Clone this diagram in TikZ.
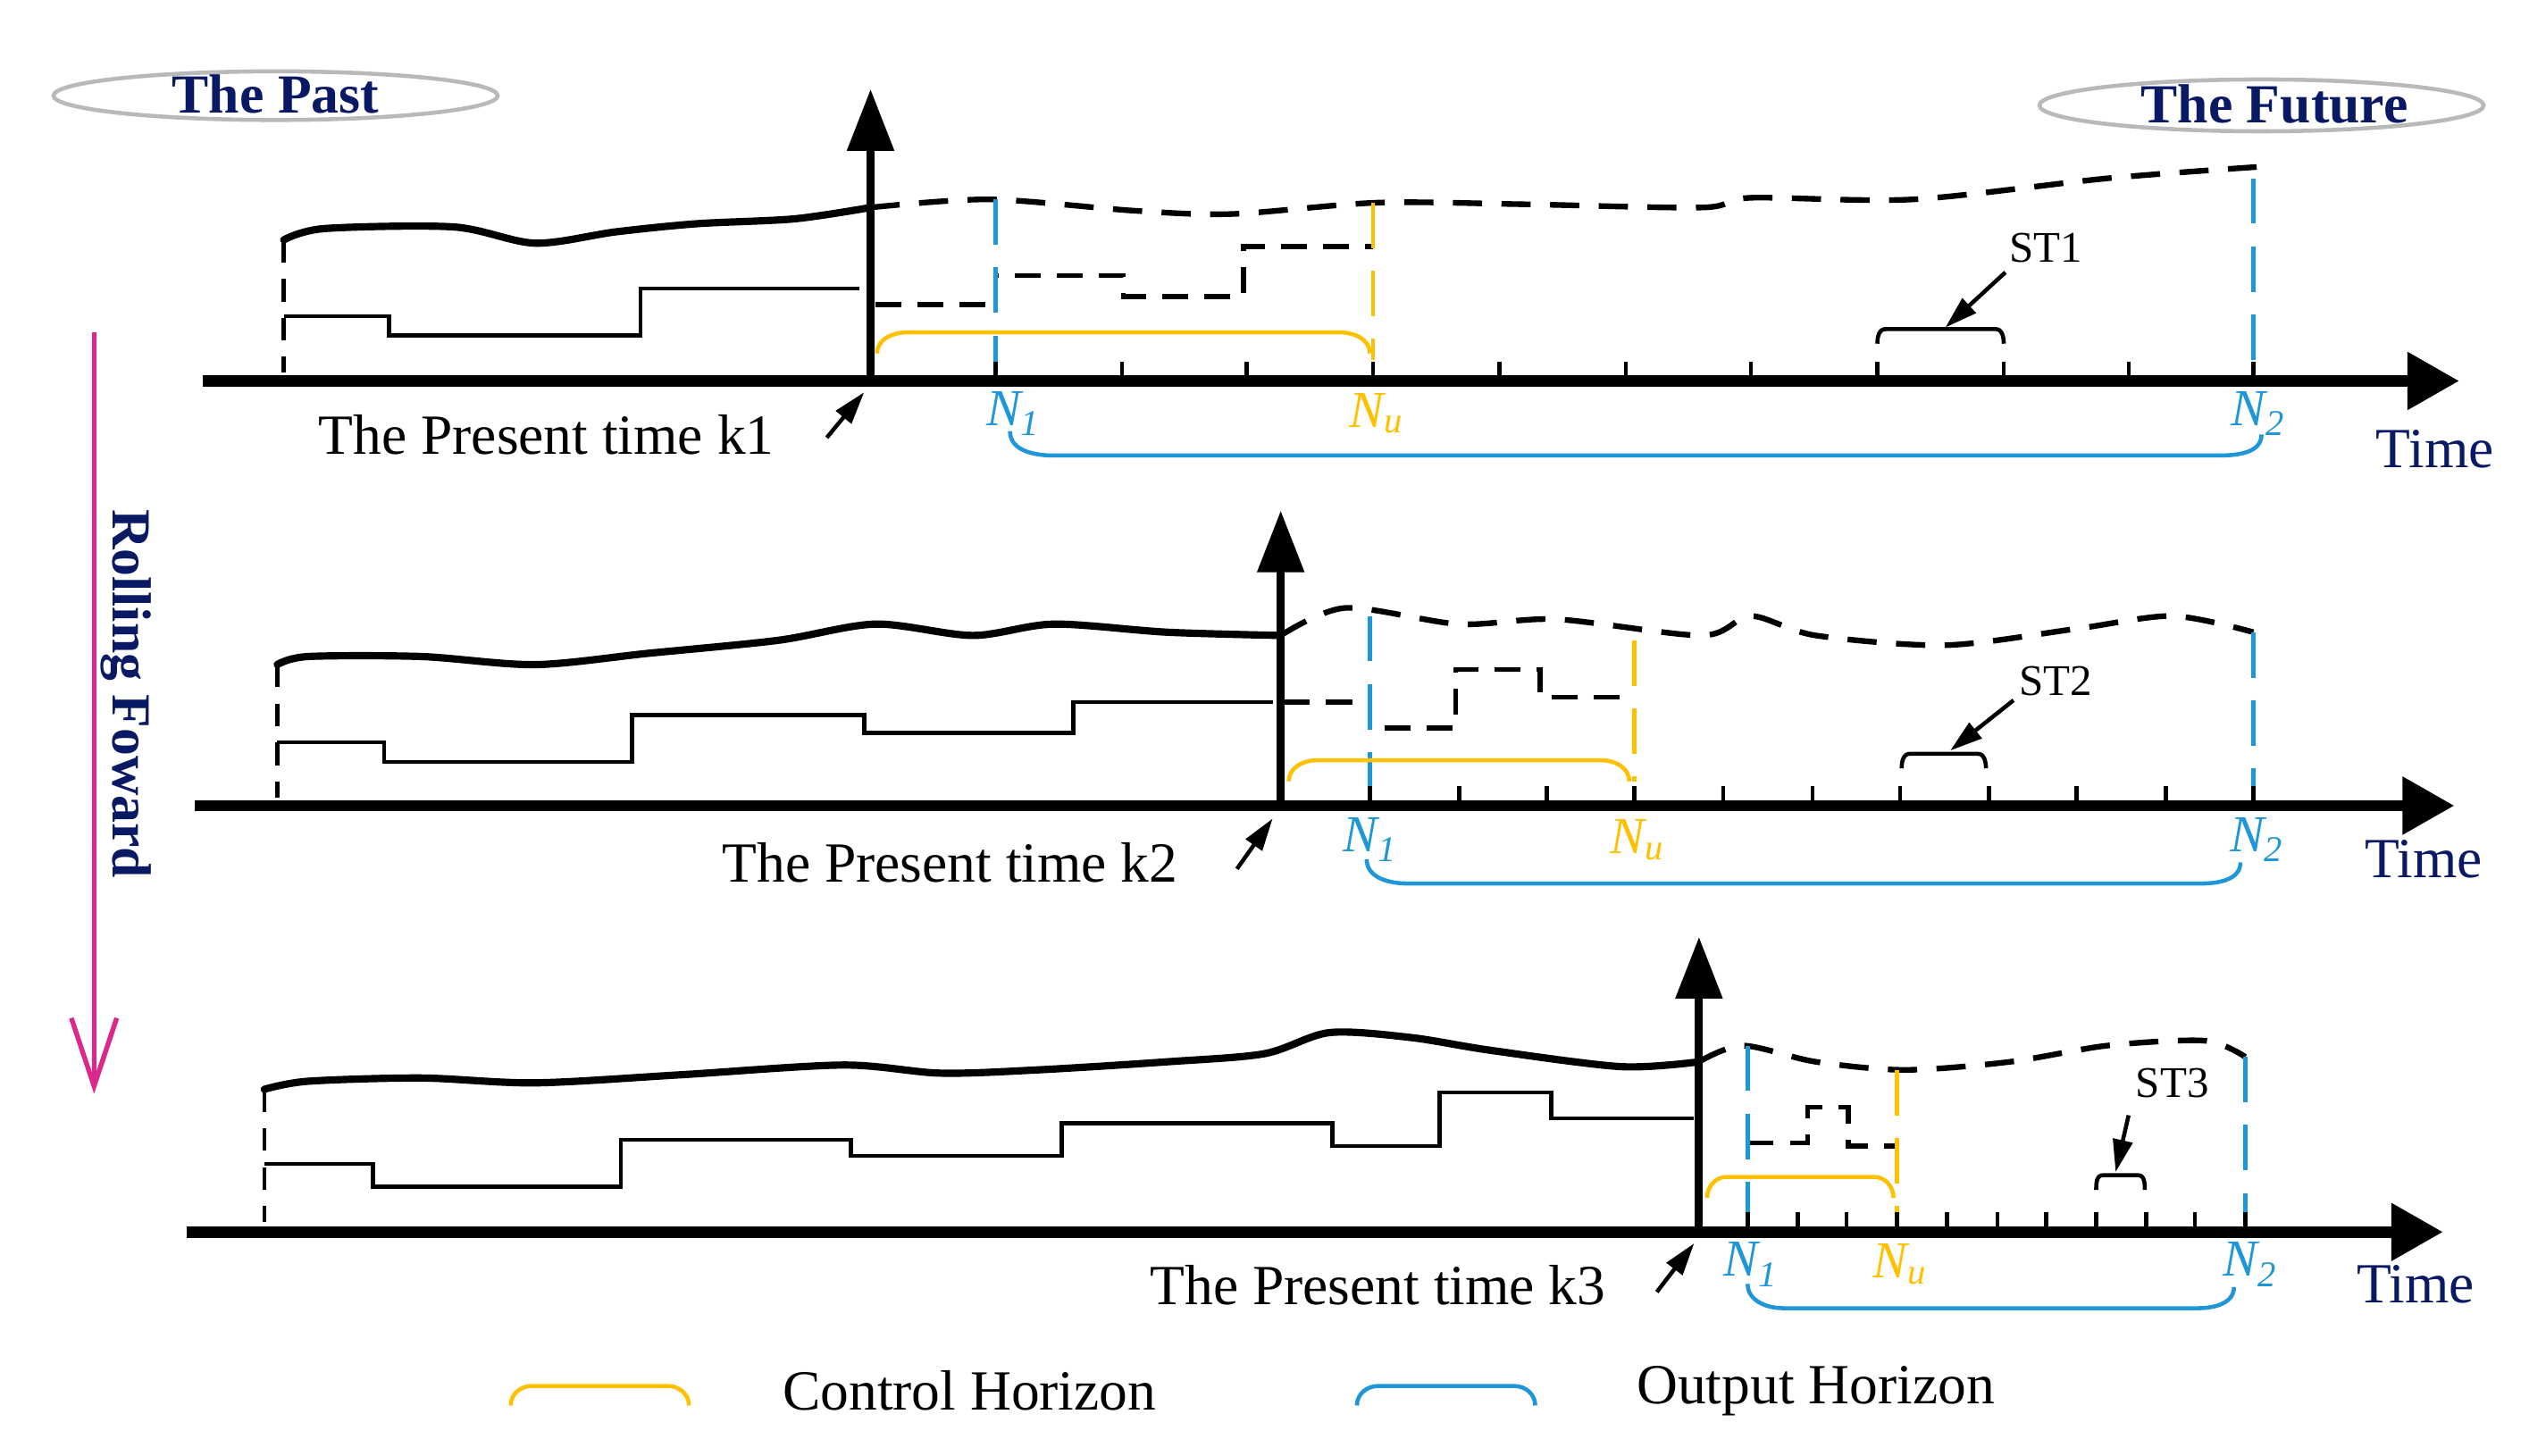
\documentclass[tikz,border=0pt]{standalone}
\usepackage{fontspec}
\setmainfont{Liberation Serif}
\usetikzlibrary{arrows.meta}
\definecolor{navy}{RGB}{10,25,100}
\definecolor{ora}{RGB}{255,192,0}
\definecolor{blu}{RGB}{30,150,215}
\definecolor{mag}{RGB}{220,40,140}
\begin{document}
\begin{tikzpicture}[x=1pt,y=-1pt,
 axis/.style={line width=7pt,-{Triangle[length=32pt,width=34pt]}},
 vax/.style={line width=5pt,-{Triangle[length=38pt,width=28pt]}},
 past/.style={line width=4.5pt,line cap=round},
 fut/.style={line width=3.5pt,dash pattern=on 18pt off 12pt},
 stp/.style={line width=2.5pt},
 dstp/.style={line width=3pt,dash pattern=on 16pt off 10pt},
 pd/.style={line width=2.5pt,dash pattern=on 14pt off 10pt},
 bv/.style={blu,line width=2.5pt,dash pattern=on 28pt off 14pt},
 ov/.style={ora,line width=2.5pt,dash pattern=on 28pt off 14pt},
 tk/.style={line width=2.5pt},
 lab/.style={font=\fontsize{32}{32}\selectfont\itshape},
 pres/.style={font=\fontsize{35}{35}\selectfont},
 tim/.style={font=\fontsize{35}{35}\selectfont,text=navy},
 pa/.style={line width=2.5pt,-{Triangle[length=20pt,width=12pt]}},
 ttl/.style={font=\fontsize{34}{34}\selectfont\bfseries,text=navy}]
\useasboundingbox (0,0) rectangle (1560,898);
% ellipses
\draw[gray!55,line width=2.5pt] (170,59) ellipse [x radius=137,y radius=15];
\node[ttl] (past) at (170,58) {The Past};
\draw[gray!55,line width=2.5pt] (1395,65) ellipse [x radius=137,y radius=16];
\node[ttl] (future) at (1403,64) {The Future};
% rolling
\coordinate (r1) at (58,205); \coordinate (r2) at (58,670);
\draw[mag,line width=3pt] (r1) -- (r2);
\draw[mag,line width=3pt] (44,628) -- (r2) -- (72,628);
\node[ttl,rotate=-90] (roll) at (78,428) {Rolling Foward};
% ===== panel 1 =====
\coordinate (a1s) at (125,235); \coordinate (a1e) at (1517,235);
\draw[axis] (a1s) -- (a1e);
\coordinate (v1s) at (537,238); \coordinate (v1e) at (537,55);
\draw[pd] (175,148) -- (175,230);
\draw[past] plot[smooth] coordinates {(175,148) (200,141) (280,140) (330,150) (380,143) (430,138) (490,135) (537,128)};
\draw[fut] plot[smooth] coordinates {(537,128) (610,123) (700,130) (760,132) (850,125) (940,126) (1050,128) (1080,122) (1180,123) (1300,110) (1392,103)};
\draw[stp] (175,195) -| (240,207) -| (395,178) -- (530,178);
\draw[dstp] (540,188) -| (614,170) -| (693,183) -| (767,152) -- (847,152);
\draw[bv] (614,123) -- (614,235);
\draw[ov] (847,125) -- (847,222);
\draw[bv] (1390,110) -- (1390,235);
\foreach \x in {614,692,769,847,925,1003,1080,1158,1236,1313,1390} \draw[tk] (\x,223) -- (\x,235);
\draw[vax] (v1s) -- (v1e);
\draw[ora,line width=2.5pt] (541,218) to[out=90,in=180] (560,205) -- (826,205) to[out=0,in=90] (845,218);
\draw[line width=2.5pt] (1158,212) to[out=90,in=180] (1163,203) -- (1231,203) to[out=0,in=90] (1236,212);
\node[font=\fontsize{27}{27}\selectfont] (st1) at (1262,153) {ST1};
\coordinate (st1t) at (1200,202);
\draw[pa] (1237,168) -- (st1t);
\node[lab,text=blu] (n11) at (625,255) {N\textsubscript{1}};
\node[lab,text=ora] (nu1) at (849,255) {N\textsubscript{u}};
\node[lab,text=blu] (n21) at (1393,255) {N\textsubscript{2}};
\node[tim] (t1) at (1502,277) {Time};
\draw[blu,line width=2.5pt] (623,266) to[out=-90,in=180] (650,281) -- (1368,281) to[out=0,in=-90] (1395,268);
\node[pres] (p1) at (337,268) {The Present time k1};
\coordinate (p1t) at (533,242);
\draw[pa] (510,270) -- (p1t);
% ===== panel 2 =====
\coordinate (a2s) at (120,497); \coordinate (a2e) at (1514,497);
\draw[axis] (a2s) -- (a2e);
\coordinate (v2s) at (790,500); \coordinate (v2e) at (790,315);
\draw[pd] (171,410) -- (171,492);
\draw[past] plot[smooth] coordinates {(171,410) (190,405) (260,405) (330,410) (400,403) (480,395) (540,385) (600,392) (650,385) (720,390) (790,392)};
\draw[fut] plot[smooth] coordinates {(790,392) (830,375) (900,385) (960,382) (1050,392) (1080,380) (1120,392) (1200,398) (1280,388) (1340,380) (1390,390)};
\draw[stp] (171,458) -| (237,470) -| (390,441) -| (533,452) -| (662,433) -- (785,433);
\draw[dstp] (792,433) -| (845,449) -| (898,413) -| (950,430) -- (1008,430);
\draw[bv] (845,380) -- (845,497);
\draw[ov] (1008,395) -- (1008,482);
\draw[bv] (1390,390) -- (1390,497);
\foreach \x in {845,900,954,1008,1063,1118,1172,1227,1281,1336,1390} \draw[tk] (\x,485) -- (\x,497);
\draw[vax] (v2s) -- (v2e);
\draw[ora,line width=2.5pt] (795,482) to[out=90,in=180] (812,469) -- (988,469) to[out=0,in=90] (1005,482);
\draw[line width=2.5pt] (1173,474) to[out=90,in=180] (1178,465) -- (1220,465) to[out=0,in=90] (1225,474);
\node[font=\fontsize{27}{27}\selectfont] (st2) at (1268,420) {ST2};
\coordinate (st2t) at (1203,463);
\draw[pa] (1242,432) -- (st2t);
\node[lab,text=blu] (n12) at (845,518) {N\textsubscript{1}};
\node[lab,text=ora] (nu2) at (1010,518) {N\textsubscript{u}};
\node[lab,text=blu] (n22) at (1392,518) {N\textsubscript{2}};
\node[tim] (t2) at (1495,530) {Time};
\draw[blu,line width=2.5pt] (843,530) to[out=-90,in=180] (868,545) -- (1358,545) to[out=0,in=-90] (1382,532);
\node[pres] (p2) at (586,532) {The Present time k2};
\coordinate (p2t) at (785,505);
\draw[pa] (763,536) -- (p2t);
% ===== panel 3 =====
\coordinate (a3s) at (115,760); \coordinate (a3e) at (1507,760);
\draw[axis] (a3s) -- (a3e);
\coordinate (v3s) at (1048,763); \coordinate (v3e) at (1048,578);
\draw[pd] (163,672) -- (163,754);
\draw[past] plot[smooth] coordinates {(163,672) (190,667) (260,665) (330,668) (420,663) (520,657) (580,662) (640,660) (720,655) (780,650) (820,637) (870,640) (920,648) (1000,658) (1048,655)};
\draw[fut] plot[smooth] coordinates {(1048,655) (1075,645) (1120,655) (1175,660) (1240,655) (1300,645) (1360,642) (1385,652)};
\draw[stp] (163,718) -| (230,732) -| (383,703) -| (525,713) -| (655,693) -| (822,707) -| (888,674) -| (957,690) -- (1045,690);
\draw[dstp] (1078,705) -- (1115,705) |- (1140,683) |- (1170,707);
\draw[bv] (1078,645) -- (1078,760);
\draw[ov] (1170,660) -- (1170,748);
\draw[bv] (1385,652) -- (1385,760);
\foreach \x in {1078,1109,1139,1170,1201,1232,1262,1293,1324,1354,1385} \draw[tk] (\x,748) -- (\x,760);
\draw[vax] (v3s) -- (v3e);
\draw[ora,line width=2.5pt] (1053,739) to[out=90,in=180] (1065,726) -- (1156,726) to[out=0,in=90] (1168,739);
\draw[line width=2.5pt] (1293,734) to[out=90,in=180] (1297,725) -- (1319,725) to[out=0,in=90] (1323,734);
\node[font=\fontsize{27}{27}\selectfont] (st3) at (1340,668) {ST3};
\coordinate (st3t) at (1305,723);
\draw[pa] (1313,688) -- (st3t);
\node[lab,text=blu] (n13) at (1080,780) {N\textsubscript{1}};
\node[lab,text=ora] (nu3) at (1172,780) {N\textsubscript{u}};
\node[lab,text=blu] (n23) at (1388,780) {N\textsubscript{2}};
\node[tim] (t3) at (1490,792) {Time};
\draw[blu,line width=2.5pt] (1078,792) to[out=-90,in=180] (1100,807) -- (1356,807) to[out=0,in=-90] (1378,794);
\node[pres] (p3) at (850,793) {The Present time k3};
\coordinate (p3t) at (1045,767);
\draw[pa] (1022,797) -- (p3t);
% legend
\draw[ora,line width=2.5pt] (315,867) to[out=90,in=180] (328,855) -- (412,855) to[out=0,in=90] (425,867);
\node[pres] (lc) at (598,858) {Control Horizon};
\draw[blu,line width=2.5pt] (837,867) to[out=90,in=180] (850,855) -- (934,855) to[out=0,in=90] (947,867);
\node[pres] (lo) at (1120,858) {Output Horizon};
\end{tikzpicture}
\end{document}
